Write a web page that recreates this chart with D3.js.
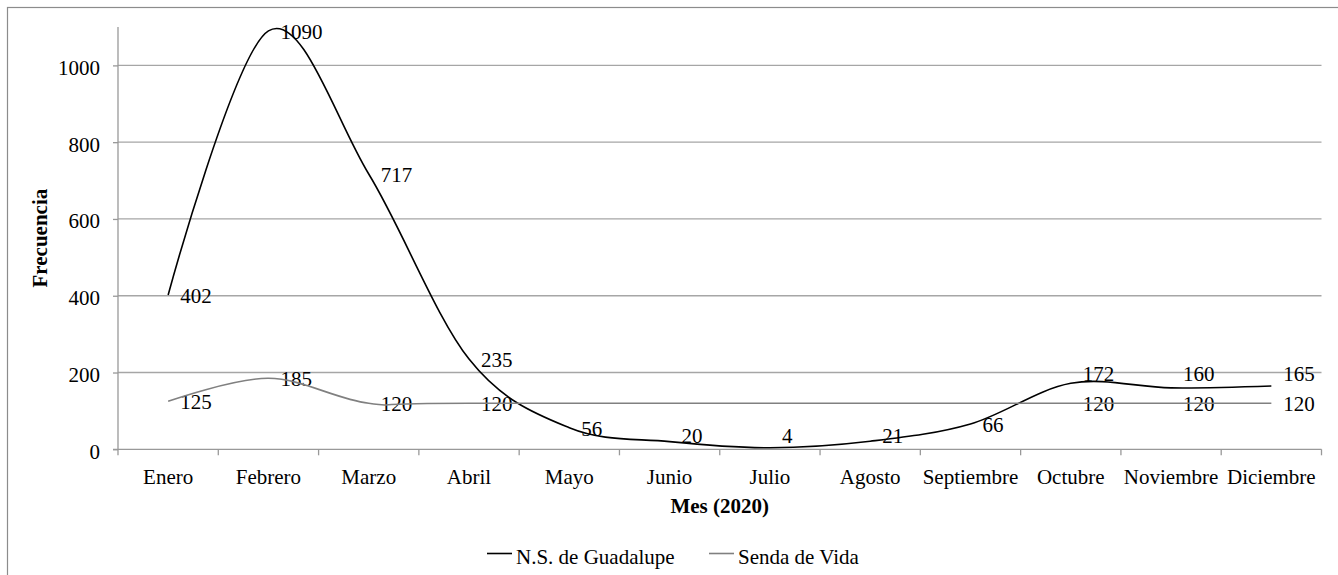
<!DOCTYPE html>
<html>
<head>
<meta charset="utf-8">
<script src="https://cdn.jsdelivr.net/npm/d3@7/dist/d3.min.js"></script>
<style>
  body { margin: 0; background: #fff; }
  svg text { font-family: "Liberation Serif", "Times New Roman", serif; fill: #000; }
</style>
</head>
<body>
<div id="chart"></div>
<script>
const width = 1338, height = 575;

// DATA
const months = ["Enero", "Febrero", "Marzo", "Abril", "Mayo", "Junio", "Julio",
  "Agosto", "Septiembre", "Octubre", "Noviembre", "Diciembre"];
const guadalupe = [402, 1090, 717, 235, 56, 20, 4, 21, 66, 172, 160, 165];
const sendaVida = [125, 185, 120, 120, null, null, null, null, null, 120, 120, 120];
const yTicks = [0, 200, 400, 600, 800, 1000];

const series = [
  { name: "N.S. de Guadalupe", values: guadalupe, color: "#000000" },
  { name: "Senda de Vida", values: sendaVida, color: "#808080" }
];

const plot = { left: 118, right: 1321.5, top: 27, bottom: 449.3 };

const svg = d3.select("#chart").append("svg")
  .attr("width", width)
  .attr("height", height);

// outer border
svg.append("rect")
  .attr("x", 7.5).attr("y", 7.5)
  .attr("width", width + 10).attr("height", height + 10)
  .attr("fill", "none")
  .attr("stroke", "#8c8c8c")
  .attr("stroke-width", 1.2);

const x = d3.scaleBand()
  .domain(months)
  .range([plot.left, plot.right]);

const cx = m => x(m) + x.bandwidth() / 2;

const y = d3.scaleLinear()
  .domain([0, 1100])
  .range([plot.bottom, plot.top]);

// GRID
svg.append("g")
  .selectAll("line")
  .data(yTicks.filter(t => t > 0))
  .join("line")
  .attr("x1", plot.left).attr("x2", plot.right)
  .attr("y1", d => y(d)).attr("y2", d => y(d))
  .attr("stroke", "#a6a6a6")
  .attr("stroke-width", 1.3);

// Y AXIS
const yAxis = svg.append("g")
  .attr("transform", `translate(${plot.left},0)`)
  .call(d3.axisLeft(y).tickValues(yTicks).tickFormat(d3.format("d"))
    .tickSize(5).tickPadding(13).tickSizeOuter(0));
yAxis.select(".domain").remove();
yAxis.append("line")
  .attr("x1", 0).attr("x2", 0)
  .attr("y1", plot.top).attr("y2", plot.bottom)
  .attr("stroke", "#999").attr("stroke-width", 1.3);
yAxis.selectAll(".tick line").attr("stroke", "#999").attr("stroke-width", 1.3);
yAxis.selectAll(".tick text")
  .attr("font-size", 21)
  .attr("dy", "0.42em");

// X AXIS
const xAxis = svg.append("g")
  .attr("transform", `translate(0,${plot.bottom})`)
  .call(d3.axisBottom(x).tickSize(0).tickPadding(20));
xAxis.select(".domain").remove();
xAxis.append("line")
  .attr("x1", plot.left - 5).attr("x2", plot.right)
  .attr("stroke", "#999").attr("stroke-width", 1.3);
xAxis.selectAll(".tick text")
  .attr("font-size", 21);
xAxis.selectAll(".tick-mark")
  .data(d3.range(months.length + 1))
  .join("line")
  .attr("x1", i => plot.left + i * x.bandwidth())
  .attr("x2", i => plot.left + i * x.bandwidth())
  .attr("y1", 0).attr("y2", 6)
  .attr("stroke", "#999").attr("stroke-width", 1.3);

// AXIS TITLES
svg.append("text")
  .attr("transform", `translate(47,${(plot.top + plot.bottom) / 2}) rotate(-90)`)
  .attr("text-anchor", "middle")
  .attr("font-size", 21)
  .attr("font-weight", "bold")
  .text("Frecuencia");

svg.append("text")
  .attr("x", (plot.left + plot.right) / 2)
  .attr("y", 513)
  .attr("text-anchor", "middle")
  .attr("font-size", 21)
  .attr("font-weight", "bold")
  .text("Mes (2020)");

// DATA LABELS (right of point, kept off the baseline, pushed apart if they collide)
const labelY = series.map(s => s.values.map(v => v == null ? null : Math.min(y(v), y(0) - 14)));
months.forEach((m, i) => {
  const a = labelY[0][i], b = labelY[1][i];
  if (a != null && b != null && Math.abs(a - b) < 30) {
    if (a < b) labelY[0][i] = b - 30; else labelY[1][i] = a - 30;
  }
});

series.forEach((s, k) => {
  svg.append("g")
    .selectAll("text")
    .data(s.values.map((v, i) => ({ v, i })).filter(d => d.v != null))
    .join("text")
    .attr("x", d => cx(months[d.i]) + 12)
    .attr("y", d => labelY[k][d.i])
    .attr("dy", "0.38em")
    .attr("font-size", 21)
    .text(d => d.v);
});

// LINES
const line = d3.line()
  .x(d => cx(months[d.i]))
  .y(d => y(d.v))
  .curve(d3.curveCatmullRom.alpha(0));

series.forEach(s => {
  svg.append("path")
    .datum(s.values.map((v, i) => ({ v, i })).filter(d => d.v != null))
    .attr("fill", "none")
    .attr("stroke", s.color)
    .attr("stroke-width", 1.6)
    .attr("d", line);
});

// LEGEND
const legendPos = [487, 709];
const legend = svg.append("g");
series.forEach((s, k) => {
  legend.append("line")
    .attr("x1", legendPos[k]).attr("x2", legendPos[k] + 25)
    .attr("y1", 553.5).attr("y2", 553.5)
    .attr("stroke", s.color)
    .attr("stroke-width", 1.6);
  legend.append("text")
    .attr("x", legendPos[k] + 29)
    .attr("y", 564)
    .attr("font-size", 21)
    .text(s.name);
});
</script>
</body>
</html>
